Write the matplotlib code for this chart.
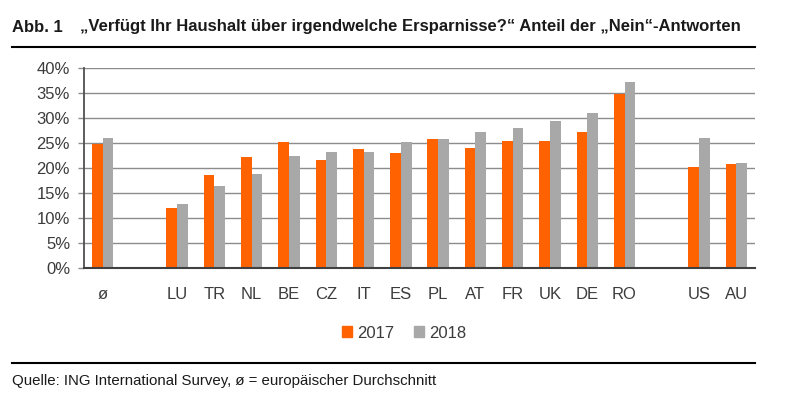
import numpy as np
import matplotlib.pyplot as plt
from matplotlib.patches import Patch

# Länder (leere Einträge = Abstand zwischen den Gruppen)
laender = ["ø", "", "LU", "TR", "NL", "BE", "CZ", "IT", "ES", "PL", "AT",
           "FR", "UK", "DE", "RO", "", "US", "AU"]
werte_2017 = [24.8, np.nan, 12.1, 18.7, 22.2, 25.3, 21.7, 23.9, 23.0, 25.8,
              24.0, 25.5, 25.5, 27.2, 34.9, np.nan, 20.3, 20.9]
werte_2018 = [26.0, np.nan, 12.9, 16.5, 18.9, 22.4, 23.2, 23.3, 25.2, 25.9,
              27.3, 28.0, 29.5, 31.1, 37.2, np.nan, 26.0, 21.1]
y_ticks = [0, 5, 10, 15, 20, 25, 30, 35, 40]

ORANGE = "#FF6200"
GRAU = "#A8A8A8"
TEXT = "#3c3c3c"

plt.rcParams['font.family'] = ['Liberation Sans', 'DejaVu Sans']

fig = plt.figure(figsize=(8.08, 4.0), dpi=100)
ax = fig.add_axes([84 / 808, 132 / 400, 671 / 808, 200 / 400])

x = np.arange(len(laender))
b = 0.287
ax.bar(x - b / 2, np.array(werte_2017) / 100, width=b, color=ORANGE, zorder=3)
ax.bar(x + b / 2, np.array(werte_2018) / 100, width=b, color=GRAU, zorder=3)

ax.set_xlim(-0.5, len(laender) - 0.5)
ax.set_ylim(0, 0.4)
ax.set_yticks([t / 100 for t in y_ticks])
ax.set_yticklabels([f"{t}%" for t in y_ticks])
ax.set_xticks(x)
ax.set_xticklabels(laender)

ax.grid(axis='y', color="#8c8c8c", linewidth=1.0, zorder=0)
ax.tick_params(axis='y', length=4, width=1.0, color="#8c8c8c", labelsize=12,
               labelcolor=TEXT, pad=6)
ax.tick_params(axis='x', length=0, labelsize=12, labelcolor=TEXT, pad=14)
for s in ["top", "right"]:
    ax.spines[s].set_visible(False)
ax.spines["left"].set_color("#505050")
ax.spines["left"].set_linewidth(1.3)
ax.spines["bottom"].set_color("#404040")
ax.spines["bottom"].set_linewidth(1.5)
ax.spines["bottom"].set_zorder(4)

# Legende
handles = [Patch(color=ORANGE, label="2017"), Patch(color=GRAU, label="2018")]
fig.legend(handles=handles, loc="center", bbox_to_anchor=(0.5, 67 / 400), ncol=2,
           frameon=False, handlelength=0.6, handleheight=0.6, handletextpad=0.3,
           columnspacing=1.2, fontsize=12, labelcolor=TEXT)

# Titel
fig.text(12 / 808, 1 - 27 / 400, "Abb. 1", fontsize=12, fontweight="bold",
         va="center", ha="left", color="#1a1a1a")
fig.text(80 / 808, 1 - 27 / 400,
         "„Verfügt Ihr Haushalt über irgendwelche Ersparnisse?“ Anteil der „Nein“-Antworten",
         fontsize=12, fontweight="bold", va="center", ha="left", color="#1a1a1a")
fig.add_artist(plt.Line2D([12 / 808, 755 / 808], [1 - 47 / 400] * 2,
                          color="black", linewidth=1.5))

# Quelle
fig.add_artist(plt.Line2D([12 / 808, 755 / 808], [1 - 363 / 400] * 2,
                          color="black", linewidth=1.5))
fig.text(12 / 808, 1 - 381 / 400,
         "Quelle: ING International Survey, ø = europäischer Durchschnitt",
         fontsize=10.8, va="center", ha="left", color="#1a1a1a")

fig.savefig("out.png", dpi=100)
